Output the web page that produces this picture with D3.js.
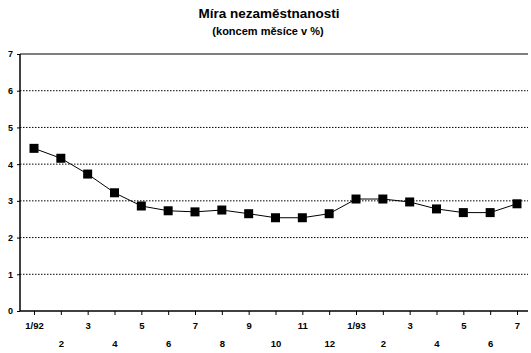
<!DOCTYPE html>
<html><head><meta charset="utf-8">
<script src="https://cdn.jsdelivr.net/npm/d3@7"></script>
<style>body{margin:0;background:#fff;}svg{display:block;}</style>
</head><body>
<svg id="c" width="531" height="353"></svg>
<script>
const categories = ["1/92","2","3","4","5","6","7","8","9","10","11","12","1/93","2","3","4","5","6","7"];
const values = [4.43,4.16,3.73,3.22,2.86,2.73,2.70,2.75,2.65,2.54,2.54,2.65,3.05,3.05,2.97,2.78,2.68,2.68,2.92];
const yTicks = [0,1,2,3,4,5,6,7];
const title = "Míra nezaměstnanosti";
const subtitle = "(koncem měsíce v %)";

(function(){
const svg = d3.select("#c");
const pL = 20, pR = 528, pT = 54, pB = 311;
const x = d3.scalePoint().domain(d3.range(categories.length)).range([34, 517]);
const y = d3.scaleLinear().domain([0,7]).range([pB, pT]);
const font = "'Liberation Sans', Arial, sans-serif";

svg.append("text").attr("x",269).attr("y",18).attr("text-anchor","middle")
  .attr("font-family",font).attr("font-weight","bold").attr("font-size",13.5).text(title);
svg.append("text").attr("x",268).attr("y",35).attr("text-anchor","middle")
  .attr("font-family",font).attr("font-weight","bold").attr("font-size",11).text(subtitle);

svg.append("g").selectAll("line").data(yTicks.filter(d=>d>0 && d<7)).join("line")
  .attr("x1",pL).attr("x2",pR).attr("y1",d=>y(d)).attr("y2",d=>y(d))
  .attr("stroke","#000").attr("stroke-width",1).attr("stroke-dasharray","1.5,1.5");
svg.append("line").attr("x1",pL).attr("x2",pR).attr("y1",y(7)).attr("y2",y(7))
  .attr("stroke","#000").attr("stroke-width",1.2);

const ya = svg.append("g").attr("transform",`translate(${pL},0)`)
  .call(d3.axisLeft(y).tickValues(yTicks).tickSize(3).tickFormat(d3.format("d")));
ya.select(".domain").attr("stroke-width",1.5).attr("d",`M0,${pT}V${pB}`);
ya.selectAll("text").attr("font-family",font).attr("font-weight","bold").attr("font-size",9).attr("dx",-1);

svg.append("line").attr("x1",pL).attr("x2",pR).attr("y1",pB).attr("y2",pB)
  .attr("stroke","#000").attr("stroke-width",1.5);
const xa = svg.append("g").attr("transform",`translate(0,${pB})`)
  .call(d3.axisBottom(x).tickSize(4).tickFormat(i=>categories[i]));
xa.select(".domain").remove();
xa.selectAll("text").attr("font-family",font).attr("font-weight","bold").attr("font-size",9.5)
  .attr("y",(d,i)=> i%2===0 ? 11 : 29);

svg.append("path").datum(values)
  .attr("d",d3.line().x((d,i)=>x(i)).y(d=>y(d)))
  .attr("fill","none").attr("stroke","#000").attr("stroke-width",1);
const s = 9;
svg.append("g").selectAll("rect").data(values).join("rect")
  .attr("x",(d,i)=>x(i)-s/2).attr("y",d=>y(d)-s/2).attr("width",s).attr("height",s).attr("fill","#000");
})();
</script>
</body></html>
